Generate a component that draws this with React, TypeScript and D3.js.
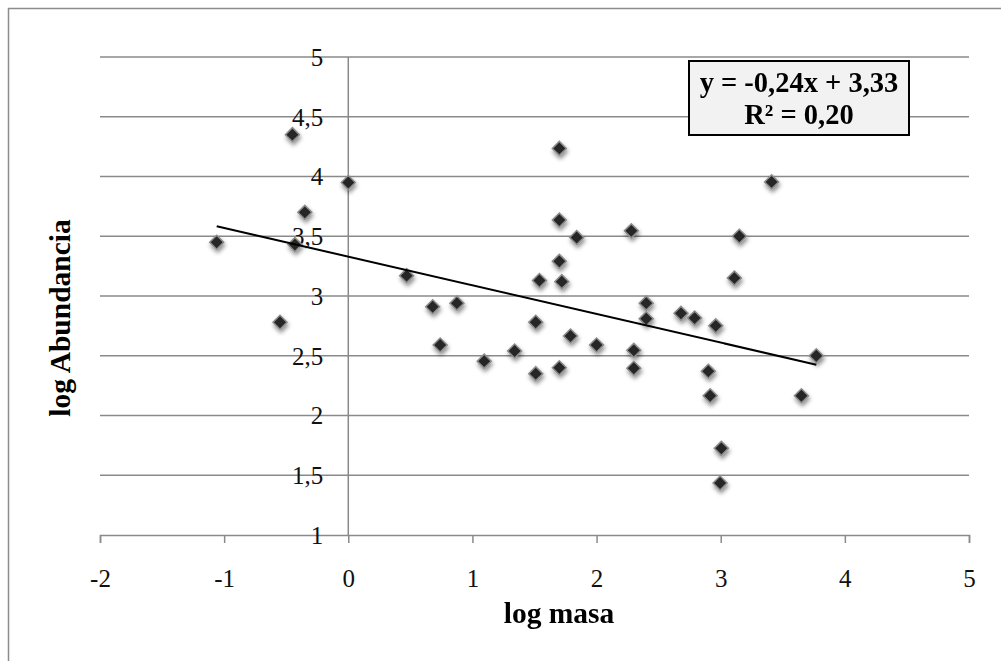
import React, { useEffect, useRef } from 'react';
import * as d3 from 'd3';

// log masa (x) and log Abundancia (y)
const logMasa = [
  -1.06, -0.45, -0.43, -0.35, 0.0, -0.55, 0.47, 0.68, 0.875, 0.74,
  1.095, 1.34, 1.51, 1.51, 1.54, 1.72, 1.7, 1.79, 1.7, 2.0,
  1.7, 1.7, 1.84, 2.28, 2.4, 2.4, 2.68, 2.79, 3.11, 2.96,
  2.3, 2.3, 2.9, 2.915, 3.65, 3.77, 3.005, 2.995, 3.41, 3.15,
];
const logAbundancia = [
  3.45, 4.35, 3.43, 3.7, 3.95, 2.78, 3.17, 2.91, 2.94, 2.59,
  2.455, 2.54, 2.78, 2.35, 3.13, 3.12, 3.29, 2.665, 2.4, 2.59,
  4.235, 3.635, 3.49, 3.545, 2.94, 2.81, 2.855, 2.815, 3.15, 2.75,
  2.545, 2.395, 2.37, 2.165, 2.165, 2.5, 1.725, 1.435, 3.955, 3.5,
];

const xTicks = [-2, -1, 0, 1, 2, 3, 4, 5];
const yTicks = [1, 1.5, 2, 2.5, 3, 3.5, 4, 4.5, 5];

const slope = -0.24;
const intercept = 3.33;
const equationLines = ['y = -0,24x + 3,33', 'R² = 0,20'];

const font = '"Liberation Serif", "Times New Roman", serif';
const fmt = (v: number) => String(v).replace('.', ',');

const App = () => {
  const svgRef = useRef<SVGSVGElement>(null);

  useEffect(() => {
    const svg = d3.select(svgRef.current);
    svg.selectAll('*').remove();

    const x = d3.scaleLinear().domain([-2, 5]).range([100, 969]);
    const y = d3.scaleLinear().domain([1, 5]).range([535, 57]);

    // outer chart border (cut off on right/bottom)
    svg.append('rect')
      .attr('x', 8.5).attr('y', 8.5)
      .attr('width', 1100).attr('height', 700)
      .attr('fill', 'none').attr('stroke', '#8c8c8c').attr('stroke-width', 1.5);

    const defs = svg.append('defs');
    const f = defs.append('filter').attr('id', 'shadow')
      .attr('x', '-100%').attr('y', '-100%').attr('width', '300%').attr('height', '300%');
    f.append('feDropShadow')
      .attr('dx', 1).attr('dy', 3).attr('stdDeviation', 2)
      .attr('flood-color', '#000').attr('flood-opacity', 0.45);

    // horizontal gridlines
    svg.append('g').selectAll('line')
      .data(yTicks.filter(t => t !== 1))
      .enter().append('line')
      .attr('x1', x(-2)).attr('x2', x(5))
      .attr('y1', d => y(d)).attr('y2', d => y(d))
      .attr('stroke', '#8a8a8a').attr('stroke-width', 1.5);

    // x axis
    const xAxis = svg.append('g')
      .attr('transform', `translate(0, ${y(1)})`)
      .call(d3.axisBottom(x).tickValues(xTicks).tickSize(8).tickFormat(d => fmt(+d)));
    xAxis.select('.domain').attr('stroke', '#8a8a8a').attr('stroke-width', 1.5);
    xAxis.selectAll('.tick line').attr('stroke', '#8a8a8a').attr('stroke-width', 1.5);
    xAxis.selectAll('.tick text')
      .attr('y', 0).attr('dy', 0).attr('transform', 'translate(0, 52)')
      .attr('font-family', font).attr('font-size', 25).attr('fill', '#111');

    // y axis at x = 0
    svg.append('line')
      .attr('x1', x(0)).attr('x2', x(0))
      .attr('y1', y(1)).attr('y2', y(5))
      .attr('stroke', '#8a8a8a').attr('stroke-width', 1.5);

    svg.append('g').selectAll('text')
      .data(yTicks)
      .enter().append('text')
      .attr('x', x(0) - 25)
      .attr('y', d => y(d))
      .attr('dy', '0.35em')
      .attr('text-anchor', 'end')
      .attr('font-family', font).attr('font-size', 25).attr('fill', '#111')
      .text(d => fmt(d));

    // points
    const pts = logMasa.map((v, i) => [v, logAbundancia[i]] as [number, number]);
    const sym = d3.symbol().type(d3.symbolSquare).size(98);
    svg.append('g').attr('filter', 'url(#shadow)')
      .selectAll('path')
      .data(pts)
      .enter().append('path')
      .attr('d', sym)
      .attr('transform', d => `translate(${x(d[0])}, ${y(d[1])}) rotate(45)`)
      .attr('fill', '#262626')
      .attr('stroke', '#8c8c8c')
      .attr('stroke-width', 1.5);

    // trend line
    const [xMin, xMax] = d3.extent(logMasa) as [number, number];
    const line = d3.line<number>().x(d => x(d)).y(d => y(slope * d + intercept));
    svg.append('path')
      .datum([xMin, xMax])
      .attr('d', line)
      .attr('fill', 'none').attr('stroke', '#000').attr('stroke-width', 2);

    // equation box
    svg.append('rect')
      .attr('x', 689).attr('y', 61).attr('width', 220).attr('height', 74)
      .attr('fill', '#f2f2f2').attr('stroke', '#000').attr('stroke-width', 2);
    svg.append('g').selectAll('text')
      .data(equationLines)
      .enter().append('text')
      .attr('x', 799)
      .attr('y', (d, i) => 92 + i * 31.5)
      .attr('text-anchor', 'middle')
      .attr('font-family', font).attr('font-size', 28.5).attr('font-weight', 'bold')
      .text(d => d);

    // axis titles
    svg.append('text')
      .attr('x', 559).attr('y', 623)
      .attr('text-anchor', 'middle')
      .attr('font-family', font).attr('font-size', 29.5).attr('font-weight', 'bold')
      .text('log masa');

    svg.append('text')
      .attr('transform', 'translate(70, 318) rotate(-90)')
      .attr('text-anchor', 'middle')
      .attr('font-family', font).attr('font-size', 29.5).attr('font-weight', 'bold')
      .text('log Abundancia');
  }, []);

  return (
    <svg
      ref={svgRef}
      width={1001}
      height={661}
      style={{ position: 'absolute', left: 0, top: 0, background: '#fff' }}
    ></svg>
  );
};

export default App;
